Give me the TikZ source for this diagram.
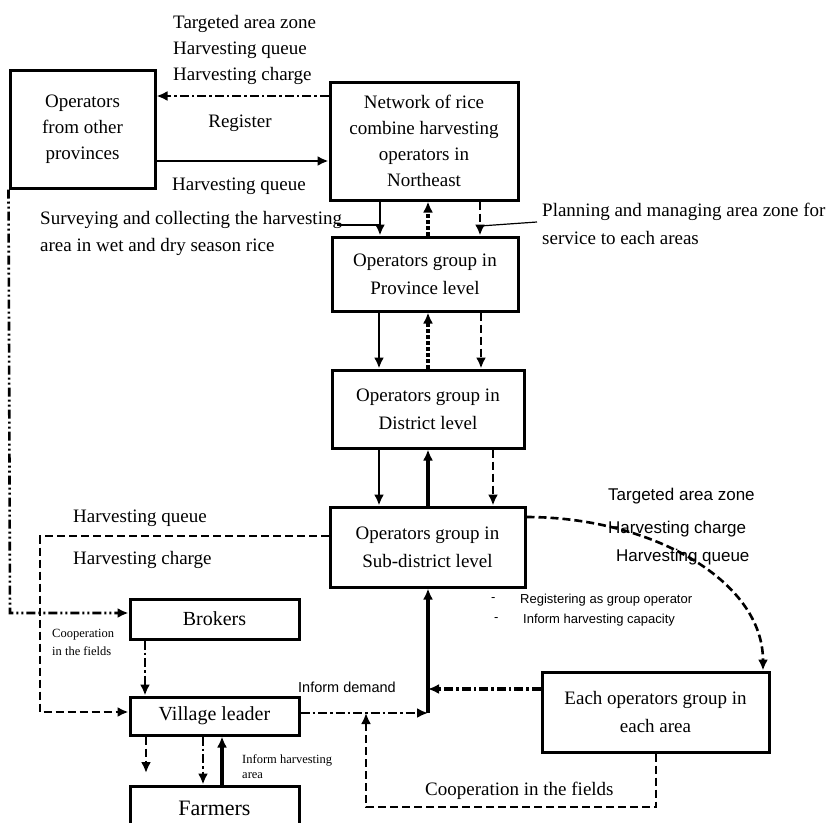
\documentclass[tikz,border=0pt]{standalone}
\usepackage{fontspec}
\setmainfont{Liberation Serif}
\newfontfamily\arialf{Liberation Sans}
\usetikzlibrary{arrows.meta}
\begin{document}
\begin{tikzpicture}[x=1pt,y=-1pt,
 box/.style={draw,line width=3pt,rectangle,inner sep=2pt,align=center,font=\fontsize{19}{26}\selectfont},
 lbl/.style={inner sep=0pt,anchor=west,font=\fontsize{19}{26}\selectfont},
 slbl/.style={inner sep=0pt,anchor=west,font=\arialf\fontsize{17}{20}\selectfont},
 sslbl/.style={inner sep=0pt,anchor=west,font=\arialf\fontsize{13}{16}\selectfont},
 tinylbl/.style={inner sep=0pt,anchor=west,font=\fontsize{12.5}{16}\selectfont},
 tip/.style={-{Latex[length=11pt,width=10pt]}},
 conn/.style={line width=2.6pt},
 arr/.style={conn,tip},
 dsh/.style={dash pattern=on 8pt off 4pt},
 dd/.style={dash pattern=on 9pt off 3pt on 2.5pt off 3pt},
 ddd/.style={dash pattern=on 9pt off 3pt on 2pt off 3pt on 2pt off 3pt},
 dens/.style={line width=3.5pt,dash pattern=on 4pt off 2pt},
 leader/.style={line width=1.2pt}
]
\clip (0,0) rectangle (837,822);
\fill[white] (0,0) rectangle (837,822);

% boxes
\node[box,minimum width=145pt,minimum height=118pt] (ops) at (82.5,129) {Operators\\from other\\provinces};
\node[box,minimum width=188pt,minimum height=118pt] (net) at (424,141) {Network of rice\\combine harvesting\\operators in\\Northeast};
\node[box,minimum width=186pt,minimum height=74pt,font=\fontsize{19}{28}\selectfont] (prov) at (425,274) {Operators group in\\Province level};
\node[box,minimum width=192pt,minimum height=78pt,font=\fontsize{19}{28}\selectfont] (dist) at (428,409) {Operators group in\\District level};
\node[box,minimum width=195pt,minimum height=80pt,font=\fontsize{19}{28}\selectfont] (sub) at (427.5,547) {Operators group in\\Sub-district level};
\node[box,minimum width=169pt,minimum height=40pt,font=\fontsize{20}{26}\selectfont] (brok) at (214.5,619) {Brokers};
\node[box,minimum width=169pt,minimum height=38pt,font=\fontsize{20}{26}\selectfont] (vill) at (214.5,716) {Village leader};
\node[box,minimum width=169pt,minimum height=44pt,font=\fontsize{22}{26}\selectfont] (farm) at (214.5,808) {Farmers};
\node[box,minimum width=227pt,minimum height=80pt,font=\fontsize{19}{28}\selectfont] (each) at (655.5,712) {Each operators group in\\each area};

% top connectors
\draw[arr,dd] (net.west |- 0,96) -- (ops.east |- 0,96);
\draw[arr] (ops.east |- 0,161) -- (net.west |- 0,161);

% net <-> prov
\draw[arr] (net.south -| 380,0) -- (prov.north -| 380,0);
\draw[dens,tip] (prov.north -| 428,0) -- (net.south -| 428,0);
\draw[arr,dsh] (net.south -| 480,0) -- (prov.north -| 480,0);

% prov <-> dist
\draw[arr] (prov.south -| 379,0) -- (dist.north -| 379,0);
\draw[dens,tip] (dist.north -| 428,0) -- (prov.south -| 428,0);
\draw[arr,dsh] (prov.south -| 481,0) -- (dist.north -| 481,0);

% dist <-> sub
\draw[arr] (dist.south -| 379,0) -- (sub.north -| 379,0);
\draw[arr,line width=3.5pt] (sub.north -| 428,0) -- (dist.south -| 428,0);
\draw[arr,dsh] (dist.south -| 493,0) -- (sub.north -| 493,0);

% sub -> village leader (dashed)
\draw[arr,dsh] (sub.west |- 0,536) -- (40,536) -- (40,712) -- (vill.west |- 0,712);

% ops -> brokers (dash dot dot)
\draw[arr,ddd] (ops.south west) -- (10,613) -- (brok.west |- 0,613);

% brokers -> village leader
\draw[arr,dd] (brok.south -| 145,0) -- (vill.north -| 145,0);

% village leader -> farmers
\coordinate (fend) at (146,773);
\draw[arr,dsh] (vill.south -| 146,0) -- (fend);
\draw[arr,dd] (vill.south -| 203,0) -- (farm.north -| 203,0);
\draw[arr,line width=3.5pt] (farm.north -| 222,0) -- (vill.south -| 222,0);

% junction
\coordinate (jn) at (428,713);
\coordinate (jm) at (428,689);
\draw[arr,dd] (vill.east |- jn) -- (jn);
\draw[arr,line width=3.5pt] (jn) -- (sub.south -| jn);
\draw[dd,line width=3.5pt,tip] (each.west |- jm) -- (jm);

% cooperation loop
\coordinate (cj) at (366,713);
\draw[arr,dsh] (each.south -| 656,0) -- (656,807) -- (366,807) -- (cj);

% curved dashed
\draw[arr,dsh] (sub.east |- 0,517) .. controls (650,517) and (763,580) .. (each.north -| 763,0);

% labels
\node[lbl] (t1) at (173,24) {Targeted area zone};
\node[lbl] (t2) at (173,50) {Harvesting queue};
\node[lbl] (t3) at (173,76) {Harvesting charge};
\node[lbl,anchor=center] (t4) at (240,123) {Register};
\node[lbl] (t5) at (172,186) {Harvesting queue};
\node[lbl] (s1) at (40,220) {Surveying and collecting the harvesting};
\node[lbl] (s2) at (40,247) {area in wet and dry season rice};
\coordinate (sl1) at (337,225);
\coordinate (sl2) at (380,225);
\draw[leader] (sl1) -- (sl2);
\node[lbl] (p1) at (542,212) {Planning and managing area zone for};
\node[lbl] (p2) at (542,238) {service to each areas};
\coordinate (pl1) at (537,222);
\coordinate (pl2) at (480,226);
\draw[leader] (pl1) -- (pl2);
\node[lbl] (h1) at (73,518) {Harvesting queue};
\node[lbl] (h2) at (73,560) {Harvesting charge};
\node[tinylbl] (c1) at (52,635) {Cooperation};
\node[tinylbl] (c2) at (52,651) {in the fields};
\node[sslbl,font=\arialf\fontsize{14.5}{16}\selectfont] (id) at (298,687) {Inform demand};
\node[tinylbl] (ih1) at (242,760) {Inform harvesting};
\node[tinylbl] (ih2) at (242,776) {area};
\node[slbl] (r1) at (608,496) {Targeted area zone};
\node[slbl] (r2) at (608,529) {Harvesting charge};
\node[slbl] (r3) at (616,557) {Harvesting queue};
\node[sslbl] (b1d) at (491,600) {-};
\node[sslbl] (b1) at (520,600) {Registering as group operator};
\node[sslbl] (b2d) at (494,620) {-};
\node[sslbl] (b2) at (523,620) {Inform harvesting capacity};
\node[lbl] (cf) at (425,791) {Cooperation in the fields};
\end{tikzpicture}
\end{document}
